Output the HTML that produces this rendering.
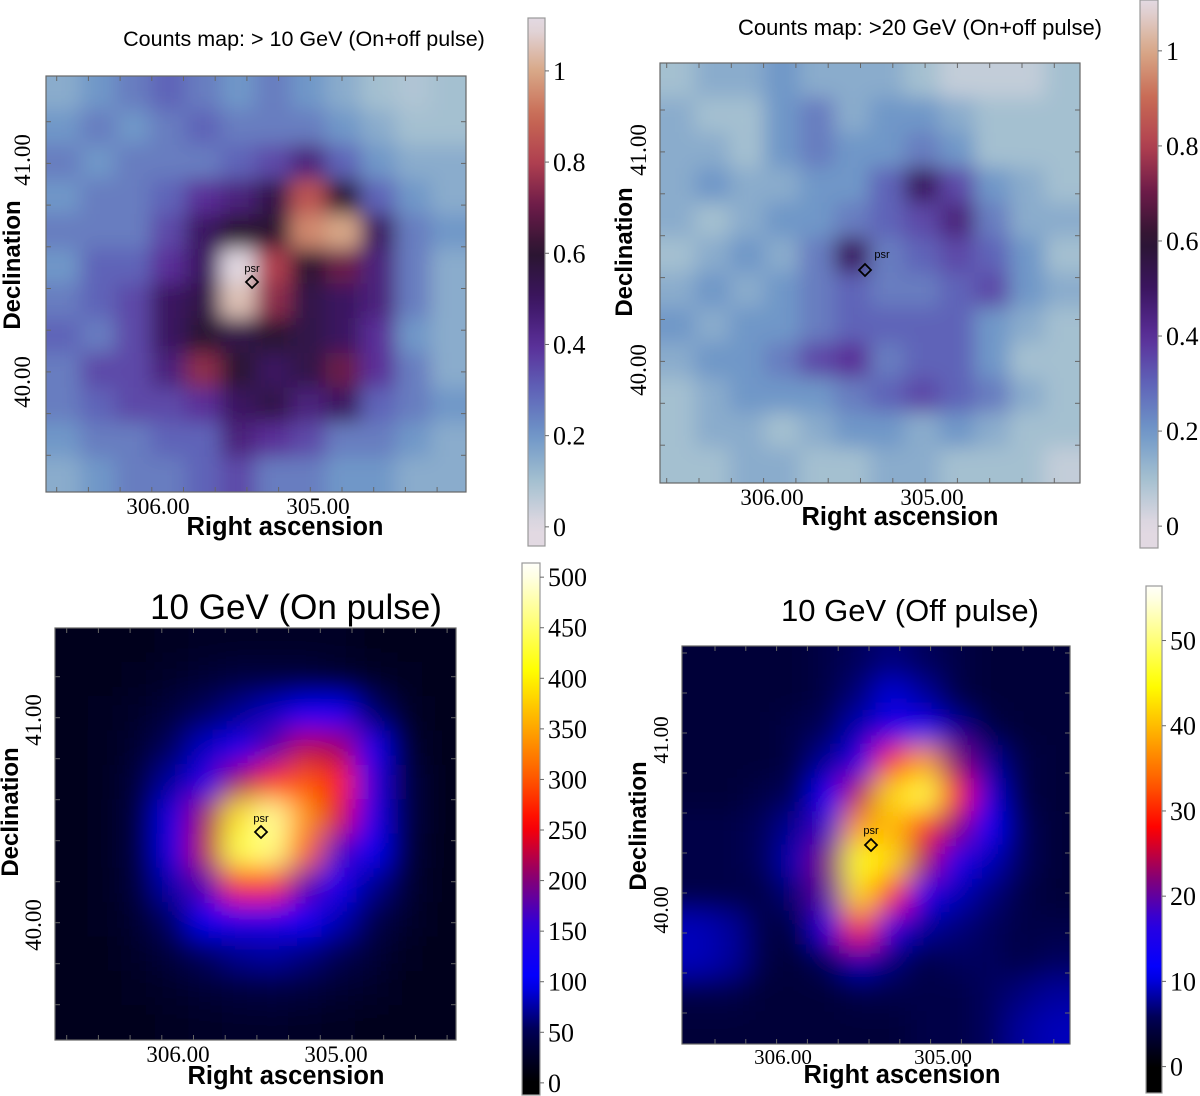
<!DOCTYPE html>
<html><head><meta charset="utf-8">
<style>
html,body{margin:0;padding:0;background:#fff;}
svg{display:block;}
</style></head>
<body>
<svg id="fig" width="1200" height="1096" viewBox="0 0 1200 1096" xmlns="http://www.w3.org/2000/svg">
<defs>
<filter id="blurS" filterUnits="userSpaceOnUse" x="-100" y="-100" width="1400" height="1300"><feGaussianBlur stdDeviation="10"/></filter>
<filter id="blurL" filterUnits="userSpaceOnUse" x="-100" y="-100" width="1400" height="1300"><feGaussianBlur stdDeviation="14"/></filter>
</defs>
</svg>
<script>
// ---------- data ----------
const mapTL = [
[.15,.20,.25,.30,.25,.20,.25,.20,.15,.10,.08,.10],
[.20,.25,.20,.25,.30,.25,.25,.25,.20,.15,.10,.10],
[.25,.20,.25,.25,.25,.30,.35,.45,.30,.20,.15,.15],
[.20,.25,.25,.30,.40,.45,.55,.85,.60,.30,.20,.15],
[.25,.25,.25,.35,.50,.60,.60,.95,1.0,.50,.25,.20],
[.20,.30,.30,.40,.50,1.10,.80,.60,.70,.45,.25,.15],
[.25,.30,.35,.50,.55,1.05,.75,.55,.50,.45,.25,.15],
[.30,.25,.35,.50,.60,.55,.60,.55,.50,.40,.20,.15],
[.25,.35,.35,.45,.75,.60,.50,.55,.70,.40,.25,.15],
[.25,.30,.35,.35,.40,.50,.55,.45,.50,.30,.25,.20],
[.20,.25,.25,.30,.30,.45,.40,.35,.25,.25,.20,.15],
[.15,.20,.25,.25,.30,.35,.25,.25,.20,.20,.15,.15]];
const mapTR = [
[.10,.15,.15,.20,.15,.15,.15,.10,.05,.05,.05,.10],
[.15,.10,.10,.20,.25,.15,.20,.20,.15,.10,.10,.10],
[.15,.15,.10,.20,.25,.20,.20,.25,.20,.10,.10,.10],
[.15,.20,.15,.15,.20,.20,.30,.50,.35,.20,.15,.10],
[.15,.10,.15,.20,.20,.25,.30,.35,.45,.25,.15,.15],
[.10,.15,.20,.15,.25,.50,.25,.30,.35,.30,.20,.10],
[.15,.20,.15,.20,.25,.30,.25,.25,.30,.35,.20,.15],
[.20,.15,.20,.20,.25,.30,.30,.30,.30,.20,.15,.10],
[.15,.20,.20,.25,.35,.40,.25,.30,.30,.20,.10,.10],
[.10,.15,.20,.20,.20,.25,.30,.35,.30,.25,.15,.10],
[.10,.15,.15,.10,.15,.20,.20,.15,.20,.15,.10,.10],
[.10,.10,.15,.15,.10,.10,.15,.15,.10,.10,.10,.05]];
const mapBL = [
[18,18,20,22,24,25,25,25,24,20,18,18],
[18,20,22,28,34,40,40,40,34,28,22,18],
[18,22,28,38,55,70,85,100,100,60,28,18],
[18,22,32,55,85,125,175,225,215,120,35,20],
[18,22,38,75,135,215,275,300,270,150,45,20],
[18,22,42,95,215,390,470,340,240,130,45,20],
[18,22,42,95,225,440,460,310,170,100,40,20],
[18,22,38,80,175,275,275,180,120,70,35,20],
[18,22,32,58,100,135,135,110,80,50,30,18],
[18,20,28,38,55,70,75,65,52,35,22,18],
[18,18,22,28,34,38,42,38,32,26,20,18],
[18,18,18,22,24,26,26,24,22,18,18,18]];
const mapBR = [
[4,4,4,4,5,6,7,6,5,4,4,4],
[4,4,4,4,5,7,10,8,5,4,4,4],
[4,4,4,5,6,9,15,14,8,5,4,4],
[4,4,4,5,8,15,30,38,22,8,5,4],
[4,4,5,6,12,25,42,48,28,10,5,4],
[5,5,6,8,18,38,40,30,22,12,6,4],
[5,5,6,9,22,46,42,24,14,9,6,4],
[5,5,5,7,20,42,28,14,9,7,5,4],
[9,8,5,5,16,30,16,8,7,6,5,5],
[9,8,5,4,6,9,7,5,6,6,5,6],
[5,5,4,4,4,5,5,5,5,6,7,8],
[4,4,4,4,4,4,4,5,5,6,8,9]];
const cbTicksTop = [0,0.2,0.4,0.6,0.8,1];
const cbLabelsTop = ["0","0.2","0.4","0.6","0.8","1"];
const cbTicksBL = [0,50,100,150,200,250,300,350,400,450,500];
const cbTicksBR = [0,10,20,30,40,50];
const raTicks = [306,305];
const raLabels = ["306.00","305.00"];
const decTicks = [41,40];
const decLabels = ["41.00","40.00"];

// ---------- colormaps ----------
const twilight = [[0,[226,217,226]],[0.1,[164,192,208]],[0.2,[111,151,200]],[0.3,[95,99,184]],[0.4,[90,46,152]],[0.5,[59,21,96]],[0.6,[42,21,48]],[0.7,[106,26,72]],[0.8,[176,64,80]],[0.9,[200,106,84]],[1.0,[216,168,136]],[1.1,[226,217,226]]];
const heat = [[0,[0,0,0]],[0.1,[0,0,80]],[0.2,[0,0,255]],[0.3,[42,0,224]],[0.4,[138,0,112]],[0.5,[255,0,0]],[0.6,[255,96,0]],[0.7,[255,176,0]],[0.8,[255,255,0]],[0.9,[255,255,128]],[1.0,[255,255,250]]];
function cmap(stops,t){
  if(t<=stops[0][0]) return rgb(stops[0][1]);
  for(let i=1;i<stops.length;i++){
    if(t<=stops[i][0]){const a=stops[i-1],b=stops[i];const f=(t-a[0])/(b[0]-a[0]);
      return rgb(a[1].map((v,k)=>v+(b[1][k]-v)*f));}
  }
  return rgb(stops[stops.length-1][1]);
}
function rgb(c){return 'rgb('+c.map(v=>Math.round(v)).join(',')+')';}

const NS='http://www.w3.org/2000/svg';
const fig=document.getElementById('fig');
function el(tag,attrs,parent){const e=document.createElementNS(NS,tag);for(const k in attrs)e.setAttribute(k,attrs[k]);(parent||fig).appendChild(e);return e;}
function txt(s,attrs,parent){const e=el('text',attrs,parent);e.textContent=s;return e;}

function panel(p){
  const g=el('g',{});
  
  
  const cid='clip-'+p.name;
  const cp=el('clipPath',{id:cid},g);el('rect',{x:p.x0,y:p.y0,width:p.x1-p.x0,height:p.y1-p.y0},cp);
  const hm=el('g',{'clip-path':'url(#'+cid+')'},g);
  
  
  const inner=el('g',{filter:'url(#'+p.blur+')'},hm);
  const rows=p.data.length, cols=p.data[0].length;
  const cw=(p.x1-p.x0)/cols, ch=(p.y1-p.y0)/rows;
  const PAD=40;
  for(let r=0;r<rows;r++)for(let c=0;c<cols;c++){
    const v=p.data[r][c];
    let x=p.x0+c*cw-0.5, y=p.y0+r*ch-0.5, w=cw+1, h=ch+1;
    if(c===0){x-=PAD;w+=PAD;} if(c===cols-1){w+=PAD;}
    if(r===0){y-=PAD;h+=PAD;} if(r===rows-1){h+=PAD;}
    const cell=el('rect',{x:x,y:y,width:w,height:h,fill:cmap(p.cm,(v-p.cmin)/p.cnorm)},inner);
    
    
  }
  el('rect',{x:p.x0,y:p.y0,width:p.x1-p.x0,height:p.y1-p.y0,fill:'none',stroke:'#666','stroke-width':1.2},g);
  for(let x=p.tx0;x<p.x1-2;x+=p.tdx){
    el('line',{x1:x,y1:p.y0,x2:x,y2:p.y0+5,stroke:'#666'},g);
    el('line',{x1:x,y1:p.y1,x2:x,y2:p.y1-5,stroke:'#666'},g);
  }
  for(let y=p.ty0;y<p.y1-2;y+=p.tdy){
    el('line',{x1:p.x0,y1:y,x2:p.x0+5,y2:y,stroke:'#666'},g);
    el('line',{x1:p.x1,y1:y,x2:p.x1-5,y2:y,stroke:'#666'},g);
  }
  raTicks.forEach((ra,i)=>{const x=p.xRA(ra);
    const t=txt(raLabels[i],{x:x,y:p.y1+p.xlOff,'text-anchor':'middle','font-family':'Liberation Serif, serif','font-size':p.tfs},g);
    
    });
  decTicks.forEach((d,i)=>{const y=p.yDec(d);
    const t=txt(decLabels[i],{x:0,y:0,transform:'translate('+(p.x0-p.ylOff)+','+y+') rotate(-90)','text-anchor':'middle','font-family':'Liberation Serif, serif','font-size':p.tfs},g);
    
    });
  const xl=txt('Right ascension',{x:p.xlab[0],y:p.xlab[1],'text-anchor':'middle','font-family':'Liberation Sans, sans-serif','font-weight':'bold','font-size':25.5},g);
  
  
  const yl=txt('Declination',{x:0,y:0,transform:'translate('+p.ylab[0]+','+p.ylab[1]+') rotate(-90)','text-anchor':'middle','font-family':'Liberation Sans, sans-serif','font-weight':'bold','font-size':24},g);
  
  
  const tt=txt(p.title,{x:p.tpos[0],y:p.tpos[1],'text-anchor':'middle','font-family':'Liberation Sans, sans-serif','font-size':p.tsize},g);
  
  
  const m=el('g',{},g);
  
  
  const [px,py]=p.psr;
  el('path',{d:`M${px} ${py-6}L${px+6} ${py}L${px} ${py+6}L${px-6} ${py}Z`,fill:'none',stroke:'#000','stroke-width':1.8},m);
  txt('psr',{x:px+p.psrOff[0],y:py+p.psrOff[1],'text-anchor':'middle','font-family':'Liberation Sans, sans-serif','font-size':11},m);
  const cb=el('g',{},g);
  
  
  const gid='grad-'+p.name;
  const lg=el('linearGradient',{id:gid,x1:0,y1:1,x2:0,y2:0},cb);
  const N=40;
  for(let i=0;i<=N;i++){const v=p.cbLo+(p.cbHi-p.cbLo)*i/N;
    el('stop',{offset:(i/N),'stop-color':cmap(p.cm,(v-p.cmin)/p.cnorm)},lg);}
  el('rect',{x:p.cb[0],y:p.cb[1],width:p.cb[2]-p.cb[0],height:p.cb[3]-p.cb[1],fill:'url(#'+gid+')',stroke:'#999','stroke-width':1.2},cb);
  const cbY=v=>p.cb[3]-(v-p.cbLo)/(p.cbHi-p.cbLo)*(p.cb[3]-p.cb[1]);
  p.cbTicks.forEach((v,i)=>{const y=cbY(v);
    el('line',{x1:p.cb[2],y1:y,x2:p.cb[2]+4,y2:y,stroke:'#666'},cb);
    const l=txt(p.cbLabels[i],{x:p.cb[2]+8,y:y+9,'font-family':'Liberation Serif, serif','font-size':26},cb);
    
    });
}

panel({name:'panel-top-left',data:mapTL,cm:twilight,cmin:0,cnorm:1,blur:'blurS',
  x0:46,y0:76,x1:466,y1:492,tx0:56.7,tdx:31.7,ty0:121.7,tdy:41.7,
  xRA:ra=>158+(306-ra)*160,yDec:d=>160+(41-d)*222,xlOff:22,ylOff:16,tfs:23,
  xlab:[285,535],ylab:[20,265],title:'Counts map: > 10 GeV (On+off pulse)',tpos:[304,46],tsize:21.5,
  psr:[252,282],psrOff:[0,-10],
  cb:[528,18,545,546],cbLo:-0.042,cbHi:1.116,cbTicks:cbTicksTop,cbLabels:cbLabelsTop});
panel({name:'panel-top-right',data:mapTR,cm:twilight,cmin:0,cnorm:1,blur:'blurS',
  x0:660,y0:63,x1:1080,y1:483,tx0:666.7,tdx:32.3,ty0:110,tdy:41.9,
  xRA:ra=>772+(306-ra)*160,yDec:d=>150+(41-d)*220,xlOff:22,ylOff:14,tfs:23,
  xlab:[900,525],ylab:[632,252],title:'Counts map: >20 GeV (On+off pulse)',tpos:[920,35],tsize:22,
  psr:[865,270],psrOff:[17,-12],
  cb:[1140,0,1158,548],cbLo:-0.046,cbHi:1.107,cbTicks:cbTicksTop,cbLabels:cbLabelsTop});
panel({name:'panel-bottom-left',data:mapBL,cm:heat,cmin:0,cnorm:510,blur:'blurL',
  x0:55,y0:628,x1:456,y1:1040,tx0:66.7,tdx:31.7,ty0:676.7,tdy:41,
  xRA:ra=>178+(306-ra)*158,yDec:d=>720+(41-d)*205,xlOff:22,ylOff:14,tfs:23,
  xlab:[286,1084],ylab:[18,812],title:'10 GeV (On pulse)',tpos:[296,619],tsize:35,
  psr:[261,832],psrOff:[0,-10],
  cb:[522,563,540,1095],cbLo:-12,cbHi:514,cbTicks:cbTicksBL,cbLabels:cbTicksBL.map(String)});
panel({name:'panel-bottom-right',data:mapBR,cm:heat,cmin:0,cnorm:56,blur:'blurL',
  x0:682,y0:646,x1:1070,y1:1044,tx0:715,tdx:30.8,ty0:653,tdy:40,
  xRA:ra=>783+(306-ra)*160,yDec:d=>740+(41-d)*170,xlOff:20,ylOff:14,tfs:21,
  xlab:[902,1083],ylab:[646,826],title:'10 GeV (Off pulse)',tpos:[910,621],tsize:31,
  psr:[871,845],psrOff:[0,-11],
  cb:[1146,586,1162,1093],cbLo:-3.1,cbHi:56.4,cbTicks:cbTicksBR,cbLabels:cbTicksBR.map(String)});
</script>
</body></html>
